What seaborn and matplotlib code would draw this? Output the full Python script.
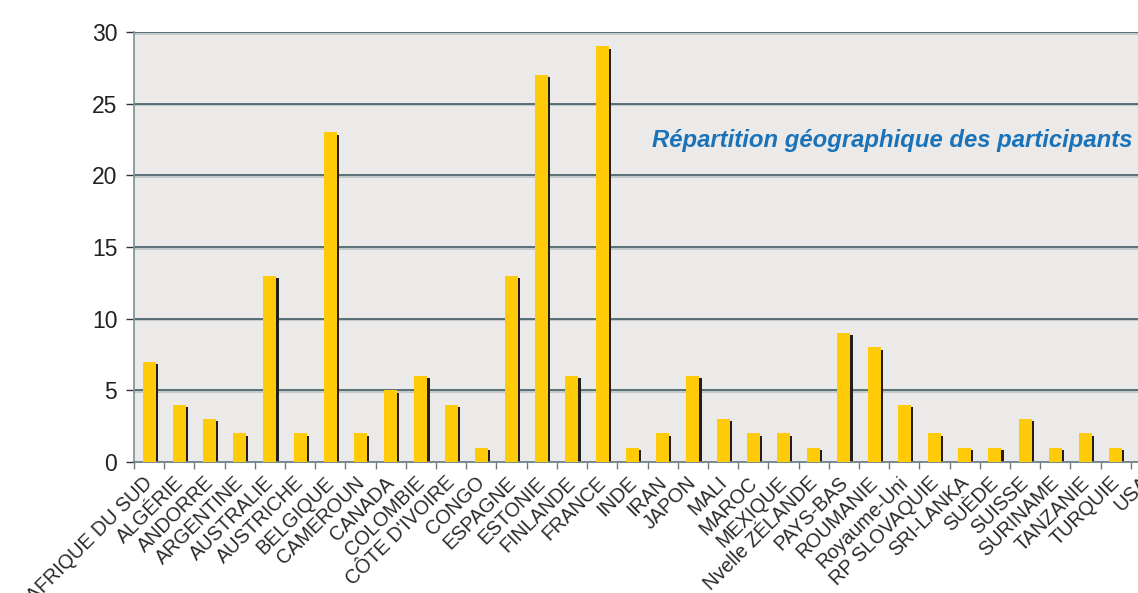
import matplotlib
matplotlib.use('Agg')
import matplotlib.pyplot as plt
import seaborn as sns
import pandas as pd
from matplotlib.transforms import ScaledTranslation

countries = ["AFRIQUE DU SUD", "ALGÉRIE", "ANDORRE", "ARGENTINE", "AUSTRALIE",
             "AUSTRICHE", "BELGIQUE", "CAMEROUN", "CANADA", "COLOMBIE",
             "CÔTE D'IVOIRE", "CONGO", "ESPAGNE", "ESTONIE", "FINLANDE",
             "FRANCE", "INDE", "IRAN", "JAPON", "MALI", "MAROC", "MEXIQUE",
             "Nvelle ZÉLANDE", "PAYS-BAS", "ROUMANIE", "Royaume-Uni",
             "RP SLOVAQUIE", "SRI-LANKA", "SUÈDE", "SUISSE", "SURINAME",
             "TANZANIE", "TURQUIE", "USA"]
participants = [7, 4, 3, 2, 13, 2, 23, 2, 5, 6, 4, 1, 13, 27, 6, 29, 1, 2, 6,
                3, 2, 2, 1, 9, 8, 4, 2, 1, 1, 3, 1, 2, 1, 1]
yticks = [0, 5, 10, 15, 20, 25, 30]
title = "Répartition géographique des participants"

sns.set_theme(style='white')
plt.rcParams['font.family'] = ['Liberation Sans', 'DejaVu Sans']

fig = plt.figure(figsize=(11.38, 5.93), dpi=100)
ax = fig.add_axes([134 / 1138, 131 / 593, 1027 / 1138, 430 / 593])
ax.set_facecolor('#ebeae9')

df = pd.DataFrame({'pays': countries, 'n': participants})

# shadow bars
sns.barplot(data=df, x='pays', y='n', color='#231f20', width=0.43,
            saturation=1, ax=ax, zorder=2, edgecolor='none', linewidth=0)
shadows = list(ax.patches)
off = ScaledTranslation(2.2 / 100, -2.2 / 100, fig.dpi_scale_trans)
for p in shadows:
    p.set_transform(ax.transData + off)
# main bars
sns.barplot(data=df, x='pays', y='n', color='#ffcb08', width=0.43,
            saturation=1, ax=ax, zorder=3, edgecolor='none', linewidth=0)

ax.set_xlim(-0.5, len(countries) - 0.5)
ax.set_ylim(0, 30)
ax.set_yticks(yticks)
ax.set_xlabel('')
ax.set_ylabel('')

# gridlines with a light under-shadow
gshift = ScaledTranslation(0, -1.8 / 100, fig.dpi_scale_trans)
for y in yticks[1:]:
    ax.axhline(y, color='#4c666e', lw=1.3, zorder=1)
    l = ax.axhline(y, color='#b9c3c5', lw=1.2, zorder=0.9)
    l.set_transform(l.get_transform() + gshift)

for s in ['top', 'right']:
    ax.spines[s].set_visible(False)
ax.spines['left'].set_color('#7b9196')
ax.spines['left'].set_linewidth(1.2)
ax.spines['bottom'].set_color('#6b8288')
ax.spines['bottom'].set_linewidth(1.3)

ax.tick_params(axis='y', which='major', left=True, length=6, width=1,
               color='#333333', labelsize=16.5, labelcolor='#222222', pad=6)
ax.set_xticks([i - 0.5 for i in range(len(countries) + 1)], minor=True)
ax.tick_params(axis='x', which='minor', bottom=True, length=5, width=1,
               color='#777777')
ax.tick_params(axis='x', which='major', bottom=False, length=0, pad=8)
ax.set_xticks(range(len(countries)))
ax.set_xticklabels(countries, rotation=45, ha='right', rotation_mode='anchor',
                   fontsize=14.2, color='#2a2a2a')
loff = ScaledTranslation(-6 / 100, 0, fig.dpi_scale_trans)
for lbl in ax.get_xticklabels():
    lbl.set_transform(lbl.get_transform() + loff)

fig.text(652 / 1138, 1 - 141 / 593, title, ha='left', va='center',
         fontsize=17.2, fontweight='bold', fontstyle='italic', color='#1a72b8')

fig.savefig('out.png', dpi=100)
